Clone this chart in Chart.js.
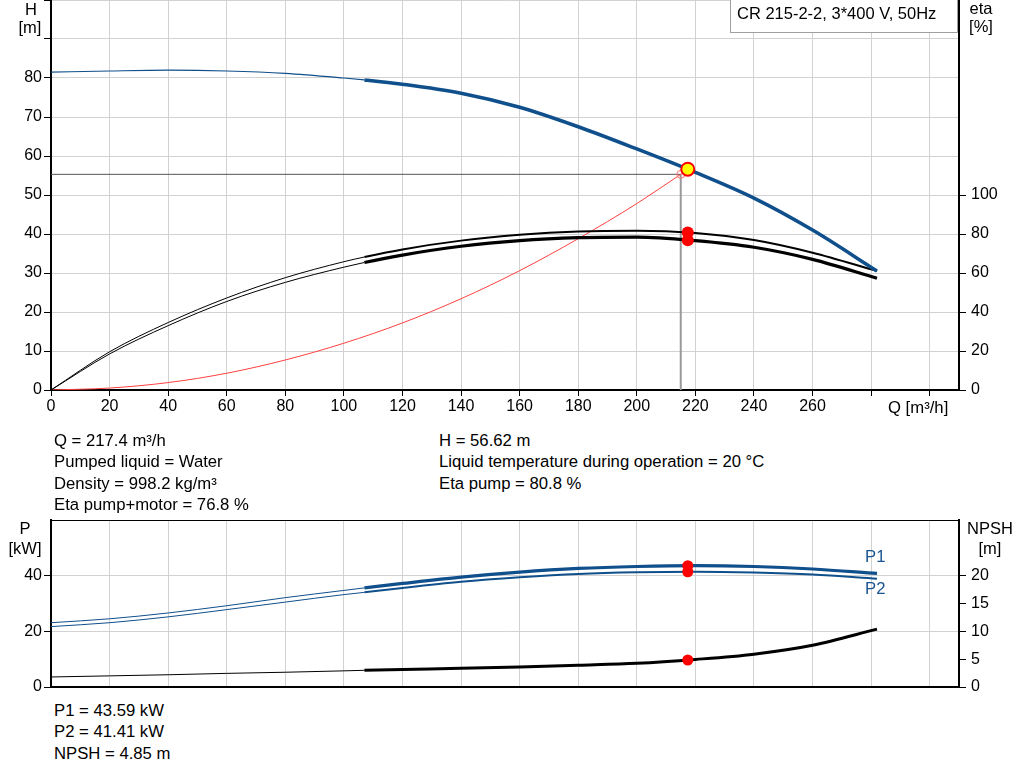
<!DOCTYPE html>
<html>
<head>
<meta charset="utf-8">
<script src="https://cdn.jsdelivr.net/npm/chart.js@4.4.1/dist/chart.umd.min.js"></script>
<style>
body { margin: 0; background: #fff; }
#wrap { position: relative; width: 1024px; height: 781px; overflow: hidden; font-family: "Liberation Sans", Arial, sans-serif; color: #000; }
canvas { position: absolute; left: 0; }
.t { position: absolute; font-size: 16.7px; line-height: 21.4px; white-space: nowrap; }
.c { position: absolute; width: 60px; font-size: 16.5px; line-height: 19.5px; text-align: center; white-space: nowrap; }
#box { position: absolute; left: 730px; top: -1px; width: 228px; height: 34px; border: 1px solid #a0a0a0; background: #fff; box-sizing: border-box; }
#box span { position: absolute; left: 6px; top: 4px; font-size: 16.5px; }
</style>
</head>
<body>
<div id="wrap">
  <canvas id="topChart" width="1024" height="420" style="top:0"></canvas>
  <canvas id="botChart" width="1024" height="190" style="top:510px"></canvas>

  <div class="c" style="left:1px; top:0px">H</div>
  <div class="c" style="left:0px; top:18px">[m]</div>
  <div class="c" style="left:951px; top:-1px">eta</div>
  <div class="c" style="left:951px; top:17px">[%]</div>
  <div id="box"><span>CR 215-2-2, 3*400 V, 50Hz</span></div>
  <div class="t" style="left:888px; top:397px">Q [m³/h]</div>

  <div class="t" style="left:54px; top:430px">Q = 217.4 m³/h<br>Pumped liquid = Water<br>Density = 998.2 kg/m³<br>Eta pump+motor = 76.8 %</div>
  <div class="t" style="left:439px; top:430px">H = 56.62 m<br>Liquid temperature during operation = 20 °C<br>Eta pump = 80.8 %</div>

  <div class="c" style="left:-5px; top:519px">P</div>
  <div class="c" style="left:-5px; top:539px">[kW]</div>
  <div class="c" style="left:960px; top:519px">NPSH</div>
  <div class="c" style="left:960px; top:539px">[m]</div>
  <div class="t" style="left:865px; top:546px; color:#1a5591">P1</div>
  <div class="t" style="left:865px; top:578px; color:#1a5591">P2</div>

  <div class="t" style="left:54px; top:700px">P1 = 43.59 kW<br>P2 = 41.41 kW<br>NPSH = 4.85 m</div>
</div>
<script>
// flow points the curves are read at [m3/h]
var qPts     = [0, 20, 40, 60, 80, 100, 107, 120, 140, 160, 180, 200, 220, 240, 260, 282];
var headH    = [81.5, 81.8, 82.0, 81.8, 81.2, 80.0, 79.5, 78.4, 76.1, 72.5, 67.5, 61.8, 55.8, 49.2, 41.0, 30.5];
var etaPump  = [0, 19.6, 34.6, 47.2, 57.6, 65.8, 68.2, 72.1, 76.6, 79.6, 81.3, 81.7, 80.5, 76.9, 70.4, 61.0];
var etaTotal = [0, 18.5, 33.0, 45.4, 55.2, 63.0, 65.4, 69.2, 73.7, 76.6, 78.1, 78.4, 76.6, 73.2, 67.0, 57.3];
var p1       = [23.1, 24.5, 26.6, 29.2, 32.1, 34.7, 35.6, 37.2, 39.5, 41.3, 42.6, 43.3, 43.6, 43.3, 42.4, 40.8];
var p2       = [21.7, 23.1, 25.2, 27.8, 30.5, 33.2, 34.0, 35.6, 37.8, 39.4, 40.6, 41.2, 41.4, 41.1, 40.4, 38.9];
var npsh     = [1.8, 2.0, 2.2, 2.45, 2.65, 2.9, 3.0, 3.15, 3.35, 3.6, 3.9, 4.25, 4.95, 5.9, 7.5, 10.4];

// system curve
var sysQ = [0, 20, 40, 60, 80, 100, 120, 140, 160, 180, 200, 215];
var sysH = [0, 0.5, 1.9, 4.3, 7.7, 12.0, 17.2, 23.4, 30.6, 38.8, 47.8, 55.3];

// duty point
var dutyQ = 217.4, dutyH = 56.62, dutyEtaPump = 80.8, dutyEtaTotal = 76.8;
var dutyP1 = 43.59, dutyP2 = 41.41, dutyNpsh = 4.85;
var reqQ = 215, reqH = 55.3;

// tick values / labels
var qTicks      = [0, 20, 40, 60, 80, 100, 120, 140, 160, 180, 200, 220, 240, 260, 280, 300];
var qTickLabels = ['0', '20', '40', '60', '80', '100', '120', '140', '160', '180', '200', '220', '240', '260', '', ''];
var hTicks      = [0, 10, 20, 30, 40, 50, 60, 70, 80, 90, 100];
var hTickLabels = ['0', '10', '20', '30', '40', '50', '60', '70', '80', '', ''];
var etaTicks    = [0, 20, 40, 60, 80, 100];
var pTicks      = [0, 20, 40];
var npshTicks   = [0, 5, 10, 15, 20];

var blue = '#0f4f8c';
var gridCol = '#d2d2d2';
var thickFrom = 107;
var font = { family: '"Liberation Sans", Arial, sans-serif', size: 16 };

function pts(xs, ys) {
    return xs.map(function (x, i) { return { x: x, y: ys[i] }; });
}
function curve(ys, color, thin, thick, axis) {
    return {
        data: pts(qPts, ys), yAxisID: axis, borderColor: color, borderWidth: thin,
        pointRadius: 0, cubicInterpolationMode: 'monotone', fill: false,
        segment: { borderWidth: function (ctx) { return ctx.p0.parsed.x >= thickFrom ? thick : thin; } }
    };
}
function dot(x, y, axis, r, bg, bc, bw) {
    return {
        data: [{ x: x, y: y }], yAxisID: axis, showLine: false,
        pointRadius: r, pointBackgroundColor: bg, pointBorderColor: bc, pointBorderWidth: bw
    };
}
function fixTicks(vals) {
    return function (s) { s.ticks = vals.map(function (v) { return { value: v }; }); };
}
function fixSize(w, h) {
    return function (s) {
        if (w !== null) s.width = w;
        if (h !== null) s.height = h;
        s.paddingTop = 0; s.paddingBottom = 0; s.paddingLeft = 0; s.paddingRight = 0;
    };
}
function xScale(showLabels, height) {
    return {
        type: 'linear', min: 0, max: 310,
        afterBuildTicks: fixTicks(qTicks),
        afterFit: fixSize(null, height),
        grid: { color: gridCol, tickColor: '#000', tickLength: 6, drawTicks: showLabels },
        border: { color: '#000', width: 2 },
        ticks: {
            display: showLabels, autoSkip: false, maxRotation: 0, padding: 1, color: '#000', font: font,
            callback: function (v, i) { return qTickLabels[i]; }
        }
    };
}

var topBorder = {
    id: 'topBorder',
    afterDraw: function (c) {
        var a = c.chartArea, ctx = c.ctx;
        ctx.save();
        ctx.strokeStyle = '#000'; ctx.lineWidth = 1;
        ctx.beginPath(); ctx.moveTo(a.left, a.top + 0.5); ctx.lineTo(a.right, a.top + 0.5); ctx.stroke();
        ctx.restore();
    }
};

new Chart(document.getElementById('topChart'), {
    type: 'line',
    data: {
        datasets: [
            dot(dutyQ, dutyH, 'h', 6.5, '#ffff00', '#ff0000', 2),
            dot(dutyQ, dutyEtaPump, 'eta', 6, '#ff0000', '#ff0000', 0),
            dot(dutyQ, dutyEtaTotal, 'eta', 6, '#ff0000', '#ff0000', 0),
            dot(reqQ, reqH, 'h', 4, 'rgba(0,0,0,0)', '#ff7070', 1),
            { data: pts([reqQ, dutyQ], [reqH, dutyH]), yAxisID: 'h', borderColor: '#ff5050', borderWidth: 1, pointRadius: 0 },
            curve(headH, blue, 1.2, 3.5, 'h'),
            curve(etaPump, '#000', 1, 2, 'eta'),
            curve(etaTotal, '#000', 1, 3.2, 'eta'),
            { data: pts(sysQ, sysH), yAxisID: 'h', borderColor: '#ff4040', borderWidth: 1, pointRadius: 0, cubicInterpolationMode: 'monotone' },
            { data: pts([0, reqQ], [reqH, reqH]), yAxisID: 'h', borderColor: '#555', borderWidth: 1, pointRadius: 0 },
            { data: pts([reqQ, reqQ], [0, reqH]), yAxisID: 'h', borderColor: '#9a9a9a', borderWidth: 2, pointRadius: 0 }
        ]
    },
    options: {
        responsive: false,
        animation: false,
        layout: { padding: 0, autoPadding: false },
        plugins: { legend: { display: false }, tooltip: { enabled: false } },
        scales: {
            x: xScale(true, 30),
            h: {
                position: 'left', min: 0, max: 100,
                afterBuildTicks: fixTicks(hTicks),
                afterFit: fixSize(51, null),
                grid: { color: gridCol, tickColor: '#000', tickLength: 7 },
                border: { color: '#000', width: 2 },
                ticks: { padding: 2, color: '#000', font: font, callback: function (v, i) { return hTickLabels[i]; } }
            },
            eta: {
                position: 'right', min: 0, max: 200,
                afterBuildTicks: fixTicks(etaTicks),
                afterFit: fixSize(65, null),
                grid: { drawOnChartArea: false, tickColor: '#000', tickLength: 7 },
                border: { color: '#000', width: 2 },
                ticks: { padding: 5, color: '#000', font: font }
            }
        }
    }
});

new Chart(document.getElementById('botChart'), {
    type: 'line',
    data: {
        datasets: [
            dot(dutyQ, dutyP1, 'p', 5.5, '#ff0000', '#ff0000', 0),
            dot(dutyQ, dutyP2, 'p', 5.5, '#ff0000', '#ff0000', 0),
            dot(dutyQ, dutyNpsh, 'npsh', 5.5, '#ff0000', '#ff0000', 0),
            curve(p1, blue, 1, 3.2, 'p'),
            curve(p2, blue, 1, 2, 'p'),
            curve(npsh, '#000', 1, 3, 'npsh')
        ]
    },
    options: {
        responsive: false,
        animation: false,
        layout: { padding: { top: 10 }, autoPadding: false },
        plugins: { legend: { display: false }, tooltip: { enabled: false } },
        scales: {
            x: xScale(false, 13),
            p: {
                position: 'left', min: 0, max: 60,
                afterBuildTicks: fixTicks(pTicks),
                afterFit: fixSize(51, null),
                grid: { color: gridCol, tickColor: '#000', tickLength: 7 },
                border: { color: '#000', width: 2 },
                ticks: { padding: 2, color: '#000', font: font }
            },
            npsh: {
                position: 'right', min: 0, max: 30,
                afterBuildTicks: fixTicks(npshTicks),
                afterFit: fixSize(65, null),
                grid: { drawOnChartArea: false, tickColor: '#000', tickLength: 7 },
                border: { color: '#000', width: 2 },
                ticks: { padding: 5, color: '#000', font: font }
            }
        }
    },
    plugins: [topBorder]
});
</script>
</body>
</html>
